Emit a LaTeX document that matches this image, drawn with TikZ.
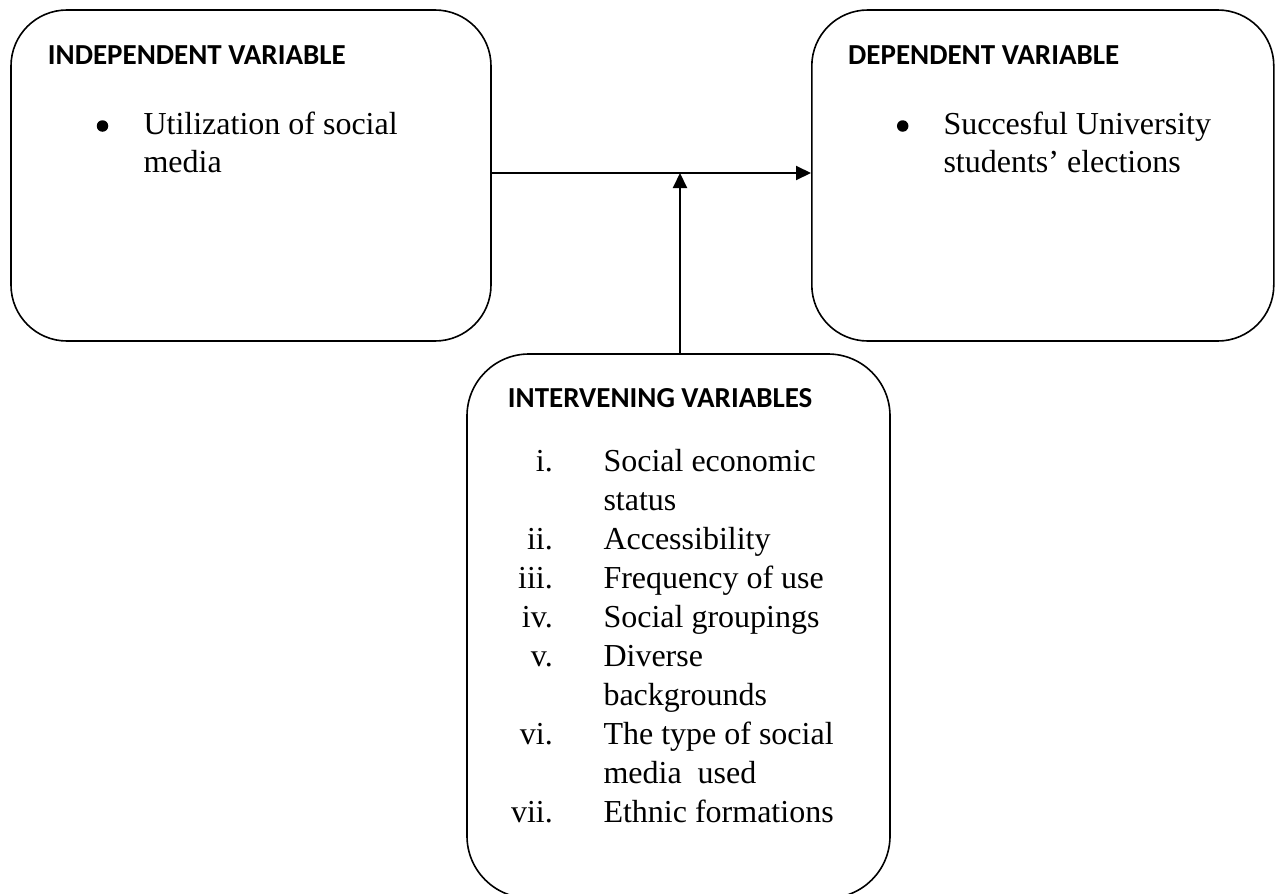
\documentclass[tikz,border=0pt]{standalone}
\usepackage{fontspec}
\setmainfont{Liberation Serif}
\newfontfamily\hdrfont{Carlito}
\usetikzlibrary{arrows.meta}
\begin{document}
\begin{tikzpicture}[x=1pt,y=-1pt,
 box/.style={draw,line width=1.6pt,rounded corners=56pt,inner sep=0pt},
 hdr/.style={anchor=base west,inner sep=0pt,font=\hdrfont\bfseries\fontsize{29}{35}\selectfont},
 txt/.style={anchor=base west,inner sep=0pt,font=\fontsize{32}{38}\selectfont},
 num/.style={anchor=base east,inner sep=0pt,font=\fontsize{32}{38}\selectfont},
 bul/.style={circle,fill,inner sep=0pt,minimum size=11.5pt},
 arr/.style={line width=2pt,-{Triangle[length=15pt,width=14pt]}}]
\useasboundingbox (0,0) rectangle (1278,894);
% boxes
\node[box,minimum width=480pt,minimum height=331pt] (ind) at (251,175.5) {};
\node[box,minimum width=462pt,minimum height=331pt] (dep) at (1042.8,175.5) {};
\node[box,rounded corners=62pt,minimum width=423pt,minimum height=544pt] (int) at (678.5,626) {};
% independent
\node[hdr] (indh) at (47.7,64) {INDEPENDENT VARIABLE};
\node[bul] (indb) at (102.5,126) {};
\node[txt] (ind1) at (143.3,134.5) {Utilization of social};
\node[txt] (ind2) at (143.3,172.5) {media};
% dependent
\node[hdr] (deph) at (848,64) {DEPENDENT VARIABLE};
\node[bul] (depb) at (902.7,126) {};
\node[txt] (dep1) at (943.3,134.5) {Succesful University};
\node[txt] (dep2) at (943.3,172.5) {students’ elections};
% intervening
\node[hdr] (inth) at (507.7,407.7) {INTERVENING VARIABLES};
\node[num] (n1) at (553,471.5) {i.};
\node[txt] (t1) at (603.3,471.5) {Social economic};
\node[txt] (t1b) at (603.3,510.5) {status};
\node[num] (n2) at (553,549.5) {ii.};
\node[txt] (t2) at (603.3,549.5) {Accessibility};
\node[num] (n3) at (553,588.5) {iii.};
\node[txt] (t3) at (603.3,588.5) {Frequency of use};
\node[num] (n4) at (553,627.5) {iv.};
\node[txt] (t4) at (603.3,627.5) {Social groupings};
\node[num] (n5) at (553,666.5) {v.};
\node[txt] (t5) at (603.3,666.5) {Diverse};
\node[txt] (t5b) at (603.3,705.5) {backgrounds};
\node[num] (n6) at (553,744.5) {vi.};
\node[txt] (t6) at (603.3,744.5) {The type of social};
\node[txt] (t6b) at (603.3,783.5) {media~ used};
\node[num] (n7) at (553,822.5) {vii.};
\node[txt] (t7) at (603.3,822.5) {Ethnic formations};
% connectors
\coordinate (h) at (680,173);
\draw[arr] (ind.east |- h) -- (dep.west |- h);
\draw[arr] (int.north -| h) -- (h);
\end{tikzpicture}
\end{document}
